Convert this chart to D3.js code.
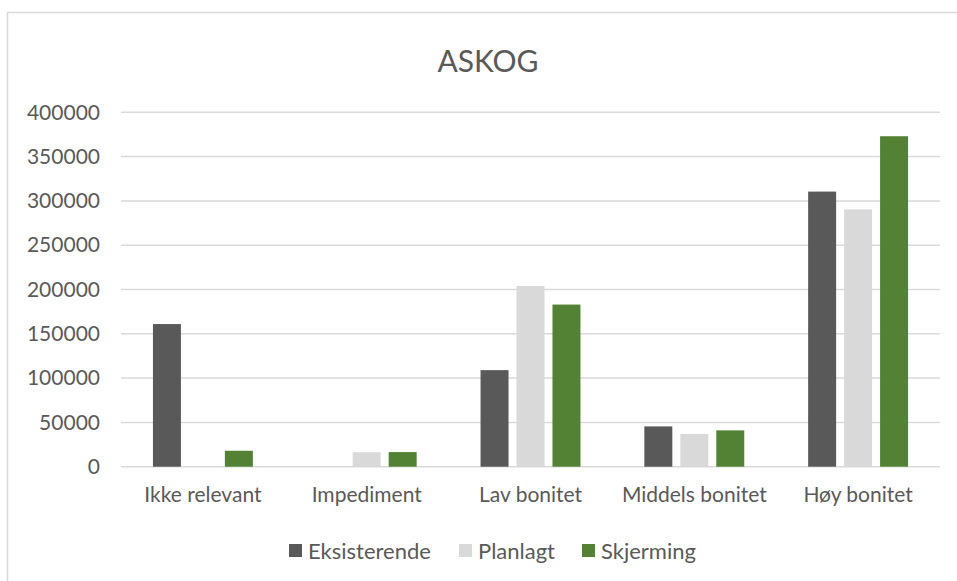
<!DOCTYPE html>
<html>
<head>
<meta charset="utf-8">
<script src="https://cdn.jsdelivr.net/npm/d3@7"></script>
<style>
  body { margin: 0; background: #fff; }
  text { font-family: Lato, "Open Sans", sans-serif; fill: #595959; }
</style>
</head>
<body>
<div id="svg-area"></div>
<script>
var svgWidth = 957;
var svgHeight = 581;

// chart data
var categories = ["Ikke relevant", "Impediment", "Lav bonitet", "Middels bonitet", "Høy bonitet"];
var seriesNames = ["Eksisterende", "Planlagt", "Skjerming"];
var seriesColors = ["#595959", "#d9d9d9", "#548235"];
var eksisterende = [161000, 0, 109000, 45500, 310500];
var planlagt = [0, 16300, 204000, 37000, 290500];
var skjerming = [18000, 16500, 183000, 41000, 373000];
var yTicks = [0, 50000, 100000, 150000, 200000, 250000, 300000, 350000, 400000];

var seriesValues = [eksisterende, planlagt, skjerming];

var svg = d3.select("#svg-area")
  .append("svg")
  .attr("width", svgWidth)
  .attr("height", svgHeight);

// chart frame (runs off the right/bottom edge like the screenshot)
svg.append("rect")
  .attr("x", 7.5)
  .attr("y", 12.5)
  .attr("width", 980)
  .attr("height", 600)
  .attr("fill", "#fff")
  .attr("stroke", "#d9d9d9")
  .attr("stroke-width", 1.5);

// title
svg.append("text")
  .attr("x", 488)
  .attr("y", 72)
  .attr("text-anchor", "middle")
  .style("font-size", "30px")
  .text("ASKOG");

var plotLeft = 121, plotRight = 940, plotTop = 112.3, plotBottom = 466.7;

var xScale = d3.scaleBand()
  .domain(categories)
  .range([plotLeft, plotRight])
  .paddingInner(0.39)
  .paddingOuter(0.195);

var xInner = d3.scaleBand()
  .domain(seriesNames)
  .range([0, xScale.bandwidth()])
  .paddingInner(0.222);

var yScale = d3.scaleLinear()
  .domain([0, 400000])
  .range([plotBottom, plotTop]);

// gridlines
svg.append("g")
  .selectAll("line")
  .data(yTicks)
  .enter()
  .append("line")
  .attr("x1", plotLeft)
  .attr("x2", plotRight)
  .attr("y1", d => yScale(d))
  .attr("y2", d => yScale(d))
  .attr("stroke", "#d9d9d9")
  .attr("stroke-width", 1.5);

// y axis labels
var yAxis = d3.axisLeft(yScale)
  .tickValues(yTicks)
  .tickSize(0)
  .tickPadding(0)
  .tickFormat(d3.format("d"));

var yG = svg.append("g")
  .attr("transform", "translate(100,0)")
  .call(yAxis);
yG.select(".domain").remove();
yG.selectAll("text")
  .attr("fill", "#595959")
  .style("font-family", "Lato, sans-serif")
  .style("font-size", "21px");

// x axis labels
var xAxis = d3.axisBottom(xScale).tickSize(0).tickPadding(0);
var xG = svg.append("g")
  .attr("transform", "translate(0," + (plotBottom + 20) + ")")
  .call(xAxis);
xG.select(".domain").remove();
xG.selectAll("text")
  .attr("fill", "#595959")
  .style("font-family", "Lato, sans-serif")
  .style("font-size", "21px");

// bars
var groups = svg.append("g")
  .selectAll("g")
  .data(categories)
  .enter()
  .append("g")
  .attr("transform", d => "translate(" + xScale(d) + ",0)");

groups.selectAll("rect")
  .data((d, i) => seriesNames.map((s, j) => ({ series: s, value: seriesValues[j][i], color: seriesColors[j] })))
  .enter()
  .append("rect")
  .filter(d => d.value > 0)
  .attr("x", d => xInner(d.series))
  .attr("width", xInner.bandwidth())
  .attr("y", d => yScale(d.value))
  .attr("height", d => plotBottom - yScale(d.value))
  .attr("fill", d => d.color);

// legend
var legendX = [289, 459, 582];
var legend = svg.append("g")
  .selectAll("g")
  .data(seriesNames)
  .enter()
  .append("g")
  .attr("transform", (d, i) => "translate(" + legendX[i] + ",544)");

legend.append("rect")
  .attr("width", 13)
  .attr("height", 13)
  .attr("fill", (d, i) => seriesColors[i]);

legend.append("text")
  .attr("x", 19)
  .attr("y", 7)
  .attr("dy", "0.35em")
  .style("font-size", "22px")
  .text(d => d);
</script>
</body>
</html>
